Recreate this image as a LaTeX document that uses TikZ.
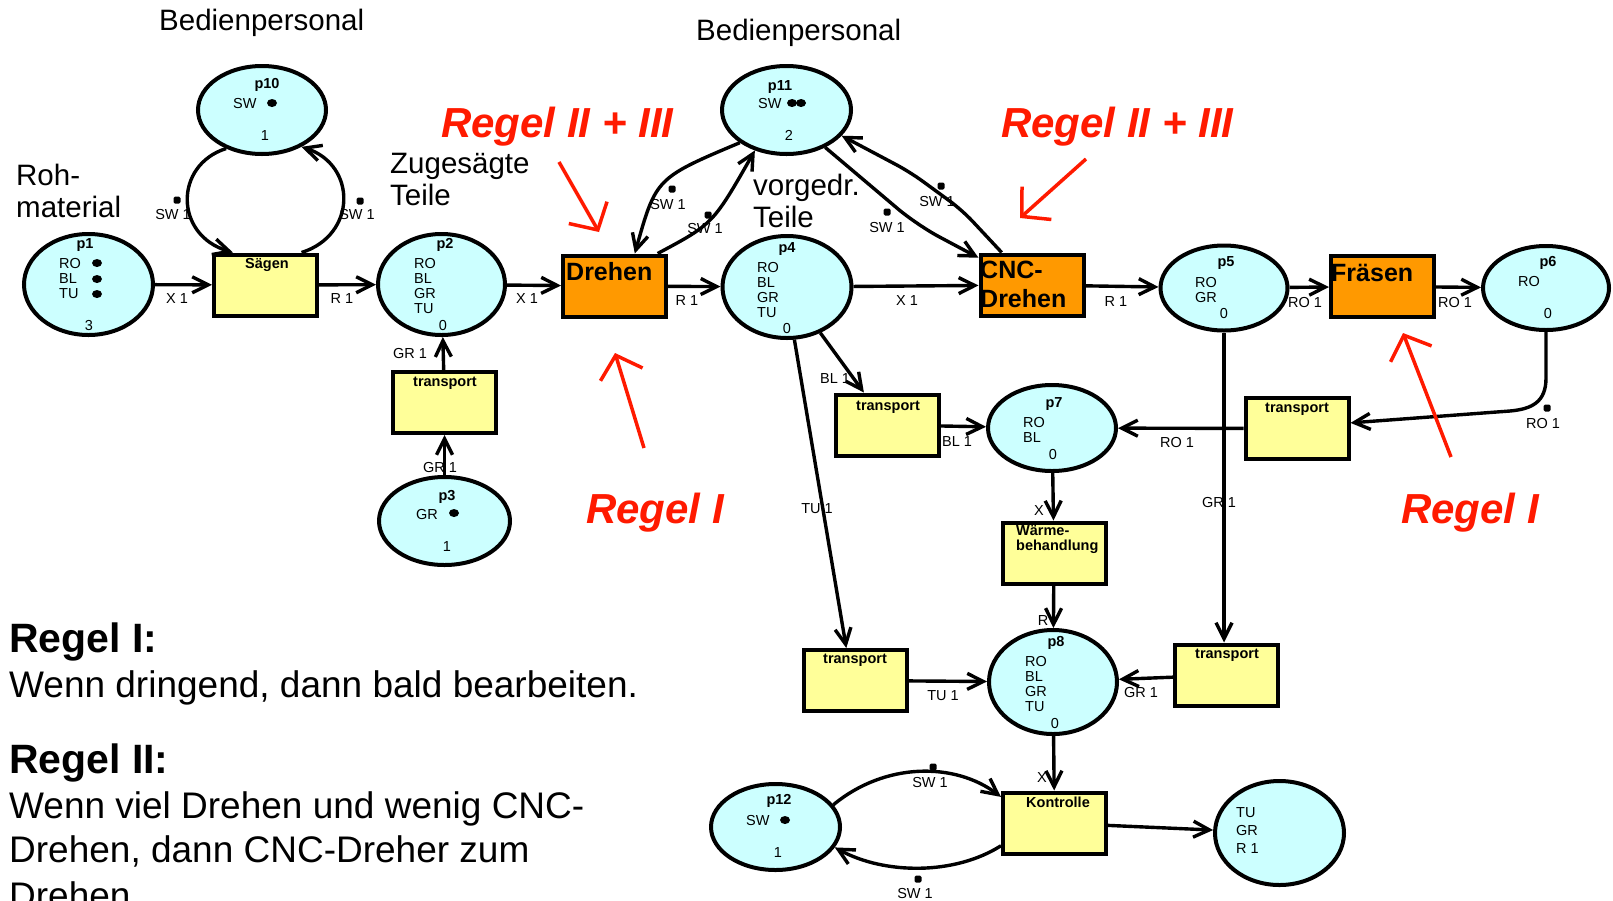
\documentclass[tikz,border=0pt]{standalone}
\usepackage{fontspec}
\setmainfont{Liberation Sans}
\usetikzlibrary{shapes.geometric,arrows.meta}

\definecolor{placefill}{RGB}{204,255,255}
\definecolor{transfill}{RGB}{255,255,153}
\definecolor{machfill}{RGB}{255,153,0}
\definecolor{rulered}{RGB}{255,26,0}

\tikzset{
  place/.style={ellipse,draw,line width=4pt,fill=placefill,inner sep=0pt},
  trans/.style={rectangle,draw,line width=4pt,fill=transfill,inner sep=0pt,
    minimum width=103pt,minimum height=61pt},
  machine/.style={trans,fill=machfill},
  flow/.style={line width=3.4pt,-{Straight Barb[length=16pt,width=16pt]}},
  hint/.style={draw=rulered,line width=3.5pt,-{Straight Barb[length=20pt,width=44pt]}},
  lab/.style={font=\fontsize{14.5}{15.3}\selectfont,inner sep=0pt,anchor=base},
  pname/.style={lab,font=\bfseries\fontsize{14.5}{15.3}\selectfont},
  plist/.style={lab,anchor=base west},
  token/.style={ellipse,fill,inner sep=0pt,minimum width=10pt,minimum height=8pt},
  dotmark/.style={rectangle,fill,inner sep=0pt,minimum size=7pt,rounded corners=1.5pt},
  sidetext/.style={font=\fontsize{29.5}{32.5}\selectfont,inner sep=0pt,anchor=base west},
  machtext/.style={font=\bfseries\fontsize{25}{29}\selectfont,inner sep=0pt,anchor=base west},
  ruletext/.style={font=\bfseries\itshape\fontsize{42}{46}\selectfont,text=rulered,
    inner sep=0pt,anchor=base west},
  heading/.style={font=\bfseries\fontsize{41}{45}\selectfont,inner sep=0pt,anchor=base west},
  body/.style={font=\fontsize{37}{44}\selectfont,inner sep=0pt,anchor=base west}
}

\begin{document}
\begin{tikzpicture}[x=1pt,y=-1pt]
\path[use as bounding box,fill=white] (0,0) rectangle (1613,900);

% Stellen
\node[place,minimum width=128pt,minimum height=88pt] (p10) at (262,110) {};
\node[place,minimum width=129pt,minimum height=101pt] (p1) at (88.5,284.5) {};
\node[place,minimum width=127pt,minimum height=101pt] (p2) at (441.5,284.5) {};
\node[place,minimum width=131pt,minimum height=88pt] (p3) at (444.5,521) {};
\node[place,minimum width=129pt,minimum height=88pt] (p11) at (786.5,110) {};
\node[place,minimum width=129pt,minimum height=102pt] (p4) at (787,287) {};
\node[place,minimum width=127pt,minimum height=85pt] (p5) at (1224,288) {};
\node[place,minimum width=126pt,minimum height=84pt] (p6) at (1546,288) {};
\node[place,minimum width=128pt,minimum height=86pt] (p7) at (1052,428) {};
\node[place,minimum width=128pt,minimum height=104pt] (p8) at (1053,682) {};
\node[place,minimum width=129pt,minimum height=86pt] (p12) at (775.5,827) {};
\node[place,minimum width=129pt,minimum height=104pt] (p9) at (1279.5,833) {};

% Transitionen
\node[trans] (saegen) at (265.5,285) {};
\node[machine] (drehen) at (614.5,286) {};
\node[machine] (cnc) at (1032,285) {};
\node[machine] (fraesen) at (1382.5,286.5) {};
\node[trans] (tr1) at (444.5,402.5) {};
\node[trans] (tr2) at (887.5,425) {};
\node[trans] (tr3) at (1297,428.5) {};
\node[trans] (waerme) at (1054,553) {};
\node[trans] (tr4) at (855,680.5) {};
\node[trans] (tr5) at (1226.5,675) {};
\node[trans] (kontrolle) at (1054.5,823) {};

% Beschriftung der Transitionen
\node[pname] (saegent) at (267,268) {Sägen};
\node[pname] (tr1t) at (445,386) {transport};
\node[pname] (tr2t) at (888,410) {transport};
\node[pname] (tr3t) at (1297,412) {transport};
\node[pname] (tr4t) at (855,663) {transport};
\node[pname] (tr5t) at (1227,658) {transport};
\node[pname] (kontrollet) at (1058,807) {Kontrolle};
\node[pname,anchor=base west] (waermet) at (1016,535) {\begin{tabular}[t]{@{}l@{}}Wärme-\\behandlung\end{tabular}};
\node[machtext] (drehent) at (566,280) {Drehen};
\node[machtext] (cnct) at (980,278) {\begin{tabular}[t]{@{}l@{}}CNC-\\Drehen\end{tabular}};
\node[machtext] (fraesent) at (1331,281) {Fräsen};

% Inhalt der Stellen
\node[pname] (p10n) at (267,88) {p10};
\node[plist] (p10l) at (233,108) {SW};
\node[token] (p10k) at (272,103) {};
\node[lab] (p10c) at (265,140) {1};

\node[pname] (p1n) at (85,248) {p1};
\node[plist] (p1l) at (59,268) {\begin{tabular}[t]{@{}l@{}}RO\\BL\\TU\end{tabular}};
\node[token] (p1k1) at (97,263) {};
\node[token] (p1k2) at (97,279) {};
\node[token] (p1k3) at (97,294) {};
\node[lab] (p1c) at (89,330) {3};

\node[pname] (p2n) at (445,248) {p2};
\node[plist] (p2l) at (414,268) {\begin{tabular}[t]{@{}l@{}}RO\\BL\\GR\\TU\end{tabular}};
\node[lab] (p2c) at (443,330) {0};

\node[pname] (p3n) at (447,500) {p3};
\node[plist] (p3l) at (416,519) {GR};
\node[token] (p3k) at (454,513) {};
\node[lab] (p3c) at (447,551) {1};

\node[pname] (p11n) at (780,90) {p11};
\node[plist] (p11l) at (758,108) {SW};
\node[token] (p11k1) at (792,103) {};
\node[token] (p11k2) at (801,103) {};
\node[lab] (p11c) at (789,140) {2};

\node[pname] (p4n) at (787,252) {p4};
\node[plist] (p4l) at (757,272) {\begin{tabular}[t]{@{}l@{}}RO\\BL\\GR\\TU\end{tabular}};
\node[lab] (p4c) at (787,333) {0};

\node[pname] (p5n) at (1226,266) {p5};
\node[plist] (p5l) at (1195,287) {\begin{tabular}[t]{@{}l@{}}RO\\GR\end{tabular}};
\node[lab] (p5c) at (1224,318) {0};

\node[pname] (p6n) at (1548,266) {p6};
\node[plist] (p6l) at (1518,286) {RO};
\node[lab] (p6c) at (1548,318) {0};

\node[pname] (p7n) at (1054,407) {p7};
\node[plist] (p7l) at (1023,427) {\begin{tabular}[t]{@{}l@{}}RO\\BL\end{tabular}};
\node[lab] (p7c) at (1053,459) {0};

\node[pname] (p8n) at (1056,646) {p8};
\node[plist] (p8l) at (1025,666) {\begin{tabular}[t]{@{}l@{}}RO\\BL\\GR\\TU\end{tabular}};
\node[lab] (p8c) at (1055,728) {0};

\node[pname] (p12n) at (779,804) {p12};
\node[plist] (p12l) at (746,825) {SW};
\node[token] (p12k) at (785,820) {};
\node[lab] (p12c) at (778,857) {1};

\node[plist] (p9l) at (1236,817) {\begin{tabular}[t]{@{}l@{}}TU\\[3pt]GR\\[3pt]R 1\end{tabular}};

% Kanten
\draw[flow] (p1) -- (saegen);
\draw[flow] (saegen) -- (p2);
\draw[flow] (p10.227) .. controls (174,165) and (174,235) .. (saegen.135);
\draw[flow] (saegen.42) .. controls (357,235) and (357,165) .. (p10.317);
\draw[flow] (p2) -- (drehen);
\draw[flow] (drehen) -- (p4);
\draw[flow] (p11.215) .. controls (656,178) .. (drehen.58);
\draw[flow] (drehen.37) .. controls (713,224) .. (p11.232);
\draw[flow,rounded corners=25pt] (p11.316) -- (917,225) -- (cnc.153);
\draw[flow,rounded corners=15pt] (cnc.133) -- (962,210) -- (910,172) -- (p11.335);
\draw[flow] (p4) -- (cnc);
\draw[flow] (cnc) -- (p5);
\draw[flow] (p5) -- (fraesen);
\draw[flow] (fraesen) -- (p6);
\draw[flow] (p6.south) -- (1546,378) .. controls (1546,402) and (1532,409) .. (1510,411) -- (tr3.6);
\draw[flow] (tr3) -- (p7);
\draw[flow] (p4.306) -- (tr2.126);
\draw[flow] (tr2) -- (p7);
\draw[flow] (p4.278) -- (tr4.105);
\draw[flow] (p5.south) -- (p5.south |- tr5.north);
\draw[flow] (p7) -- (waerme);
\draw[flow] (waerme) -- (p8);
\draw[flow] (tr4) -- (p8);
\draw[flow] (tr5) -- (p8);
\draw[flow] (p8) -- (kontrolle);
\draw[flow] (kontrolle) -- (p9);
\draw[flow] (p12.21) .. controls (885,762) and (955,762) .. (kontrolle.154);
\draw[flow] (kontrolle.203) .. controls (955,875) and (885,875) .. (p12.341);
\draw[flow] (tr1) -- (p2);
\draw[flow] (p3) -- (tr1);

% Kantengewichte
\node[lab] (w1) at (177,303) {X 1};
\node[lab] (w2) at (342,303) {R 1};
\node[lab] (w3) at (173,219) {SW 1};
\node[dotmark] (m3) at (177,200) {};
\node[lab] (w4) at (357,219) {SW 1};
\node[dotmark] (m4) at (360,201) {};
\node[lab] (w5) at (527,303) {X 1};
\node[lab] (w6) at (687,305) {R 1};
\node[lab] (w7) at (668,209) {SW 1};
\node[dotmark] (m7) at (672,189) {};
\node[lab] (w8) at (705,233) {SW 1};
\node[dotmark] (m8) at (708,215) {};
\node[lab] (w9) at (887,232) {SW 1};
\node[dotmark] (m9) at (887,212) {};
\node[lab] (w10) at (937,206) {SW 1};
\node[dotmark] (m10) at (941,186) {};
\node[lab] (w11) at (907,305) {X 1};
\node[lab] (w12) at (1116,306) {R 1};
\node[lab] (w13) at (1305,307) {RO 1};
\node[lab] (w14) at (1455,307) {RO 1};
\node[lab] (w15) at (1543,428) {RO 1};
\node[dotmark] (m15) at (1547,408) {};
\node[lab] (w16) at (1177,447) {RO 1};
\node[lab] (w17) at (835,383) {BL 1};
\node[lab] (w18) at (957,446) {BL 1};
\node[lab] (w19) at (817,513) {TU 1};
\node[lab] (w20) at (1219,507) {GR 1};
\node[lab] (w21) at (1039,515) {X};
\node[lab] (w22) at (1043,625) {R};
\node[lab] (w23) at (943,700) {TU 1};
\node[lab] (w24) at (1141,697) {GR 1};
\node[lab] (w25) at (1042,782) {X};
\node[lab] (w26) at (930,787) {SW 1};
\node[dotmark] (m26) at (933,767) {};
\node[lab] (w27) at (915,898) {SW 1};
\node[dotmark] (m27) at (918,879) {};
\node[lab] (w28) at (410,358) {GR 1};
\node[lab] (w29) at (440,472) {GR 1};

% Erklaerungen
\node[sidetext] (staff1) at (159,30) {Bedienpersonal};
\node[sidetext] (staff2) at (696,40) {Bedienpersonal};
\node[sidetext] (rawtext) at (16,185) {\begin{tabular}[t]{@{}l@{}}Roh-\\material\end{tabular}};
\node[sidetext] (sawtext) at (390,173) {\begin{tabular}[t]{@{}l@{}}Zugesägte\\Teile\end{tabular}};
\node[sidetext] (turntext) at (753,195) {\begin{tabular}[t]{@{}l@{}}vorgedr.\\Teile\end{tabular}};

% Regeln
\node[ruletext] (rule23a) at (441,137) {Regel II + III};
\node[ruletext] (rule23b) at (1001,137) {Regel II + III};
\node[ruletext] (rule1a) at (586,523) {Regel I};
\node[ruletext] (rule1b) at (1401,523) {Regel I};
\coordinate (h1s) at (559,162);
\coordinate (h1e) at (599,232);
\coordinate (h2s) at (1086,159);
\coordinate (h2e) at (1020,218);
\coordinate (h3s) at (644,448);
\coordinate (h3e) at (615,353);
\coordinate (h4s) at (1451,457);
\coordinate (h4e) at (1403,333);
\draw[hint] (h1s) -- (h1e);
\draw[hint] (h2s) -- (h2e);
\draw[hint] (h3s) -- (h3e);
\draw[hint] (h4s) -- (h4e);

\node[heading] (head1) at (9,652) {Regel I:};
\node[body] (text1) at (9,697) {Wenn dringend, dann bald bearbeiten.};
\node[heading] (head2) at (9,773) {Regel II:};
\node[body] (text2) at (9,818) {Wenn viel Drehen und wenig CNC-};
\node[body] (text3) at (9,862) {Drehen, dann CNC-Dreher zum};
\node[body] (text4) at (9,908) {Drehen.};
\end{tikzpicture}
\end{document}
